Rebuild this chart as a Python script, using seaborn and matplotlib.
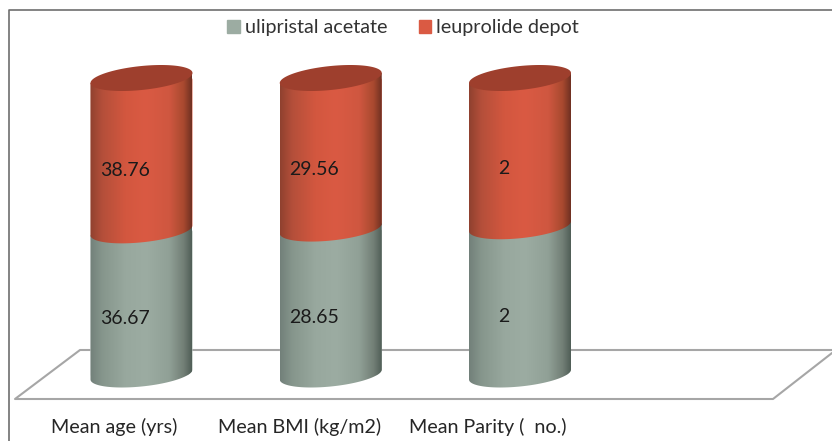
import numpy as np
import pandas as pd
import matplotlib
matplotlib.use("Agg")
import matplotlib.pyplot as plt
from matplotlib.colors import LinearSegmentedColormap
from matplotlib.lines import Line2D
from matplotlib.patches import Patch, Polygon
from matplotlib.path import Path
import seaborn as sns

categories = ["Mean age (yrs)", "Mean BMI (kg/m2)", "Mean Parity (  no.)"]
ulipristal = [36.67, 28.65, 2]
leuprolide = [38.76, 29.56, 2]
series_names = ["ulipristal acetate", "leuprolide depot"]

GREEN, RED, RED_TOP = "#9CACA2", "#DA5A43", "#9E3F2D"
W, H = 832, 441
FONT = "Lato"

sns.set_theme(style="white")
plt.rcParams["font.family"] = [FONT, "DejaVu Sans"]

fig = plt.figure(figsize=(W / 100, H / 100), dpi=100)
AX_TOP, AX_BOTTOM = 10, 400
ax = fig.add_axes([0, 1 - AX_BOTTOM / H, 1, (AX_BOTTOM - AX_TOP) / H])

df = pd.DataFrame({"category": categories, "u": ulipristal, "l": leuprolide})
df["u_pct"] = df.u / (df.u + df.l) * 100

# Classic stacked construction: whole column, then the lower share on top of it
sns.barplot(data=df, x="category", y=[100] * len(df), color=RED, width=0.539,
            saturation=1, ax=ax, zorder=2)
sns.barplot(data=df, x="category", y="u_pct", color=GREEN, width=0.539,
            saturation=1, ax=ax, zorder=1)

# Scales: 189.25 px per category, 2.965 px per percent
PX_X, PX_Y = 189.25, 2.965
Y0_PX = 374.5
X0_PX = 141.5
ax.set_xlabel("")
ax.set_ylabel("")
ax.set_yticks([])
ax.tick_params(axis="x", length=0, pad=13, labelsize=14.2, labelcolor="#262626")
ax.set_xticks(np.arange(len(categories)) + np.array([-27, -31, -32]) / PX_X)
ax.set_xticklabels(categories)
sns.despine(ax=ax, left=True, bottom=True, top=True, right=True)
ax.patch.set_alpha(0)


def arc(cx, cy, t):
    """Tilted 3D ellipse outline in data units around a column's end."""
    dx = 51 * np.cos(t)
    dy = -5 * np.cos(t) + 12 * np.sin(t)
    return np.column_stack([cx + dx / PX_X, cy - dy / PX_Y])


red_cmap = LinearSegmentedColormap.from_list(
    "r", [(0, "#8F412F"), (0.12, "#B44F3A"), (0.35, "#D3573F"), (0.55, RED),
          (0.78, "#CF5740"), (0.92, "#A8492F"), (1, "#6F3022")])
green_cmap = LinearSegmentedColormap.from_list(
    "g", [(0, "#72807A"), (0.12, "#86968C"), (0.35, "#98A89E"), (0.55, GREEN),
          (0.78, "#90A096"), (0.92, "#727F76"), (1, "#505E57")])
ramp = np.linspace(0, 1, 256)[None, :]
front = np.linspace(np.pi, 0, 60)
full = np.linspace(0, 2 * np.pi, 120)

red_bars, green_bars = ax.containers[0], ax.containers[1]
for i, (rb, gb) in enumerate(zip(red_bars, green_bars)):
    cx = rb.get_x() + rb.get_width() / 2
    seam = gb.get_height()
    for lo, hi, cmap, base, z in [(0, seam, green_cmap, gb, 3), (seam, 100, red_cmap, rb, 4)]:
        curve = arc(cx, lo, front)
        top_left = arc(cx, hi, np.array([np.pi]))
        top_right = arc(cx, hi, np.array([0.0]))
        verts = np.vstack([top_left, curve, top_right, top_left])
        outline = Path(verts, closed=True)
        left, right = cx - 51 / PX_X, cx + 51 / PX_X
        im = ax.imshow(ramp, cmap=cmap, aspect="auto", zorder=z, vmin=0, vmax=1,
                       extent=[left, right, lo - 8, hi + 8], interpolation="bilinear")
        im.set_clip_path(outline, transform=ax.transData)
        base.set_clip_path(outline, transform=ax.transData)
    ax.add_patch(Polygon(arc(cx, 100, full), closed=True, facecolor=RED_TOP,
                         edgecolor="none", zorder=5))
    # value labels
    offset_x, offset_y = -16.5 * 0.72, -16 * 0.72
    ax.annotate(f"{ulipristal[i]:g}", (cx, seam / 2), xytext=(offset_x, offset_y),
                textcoords="offset points", ha="center", va="center",
                fontsize=14.0, color="#1a1a1a", zorder=6)
    ax.annotate(f"{leuprolide[i]:g}", (cx, (seam + 100) / 2), xytext=(offset_x, offset_y),
                textcoords="offset points", ha="center", va="center",
                fontsize=14.0, color="#1a1a1a", zorder=6)

ax.set_xlim(-X0_PX / PX_X, (W - X0_PX) / PX_X)
ax.set_ylim(-(AX_BOTTOM - Y0_PX) / PX_Y, (Y0_PX - AX_TOP) / PX_Y)


def fx(px):
    return px / W


def fy(py):
    return 1 - py / H


# 3D floor behind the columns and chart frame
floor = Line2D([fx(832), fx(80), fx(15), fx(773), fx(832)],
               [fy(350), fy(350), fy(399), fy(399), fy(353)],
               color="#A6A6A6", lw=1.5, transform=fig.transFigure, zorder=0)
fig.add_artist(floor)
floor.set_zorder(-1)
frame = Line2D([fx(8.5), fx(8.5), fx(832)], [fy(441), fy(10), fy(10)],
               color="#6E6E6E", lw=1.2, transform=fig.transFigure)
fig.add_artist(frame)

leg = ax.legend(handles=[Patch(color=GREEN, label=series_names[0]),
                         Patch(color=RED, label=series_names[1])],
                ncol=2, frameon=False, fontsize=14.2, labelcolor="#333333",
                loc="center", bbox_to_anchor=(fx(403), fy(28)), bbox_transform=fig.transFigure,
                handlelength=0.62, handleheight=0.62, handletextpad=0.25,
                columnspacing=1.6)
leg.set_zorder(7)

fig.savefig("out.png", dpi=100)
